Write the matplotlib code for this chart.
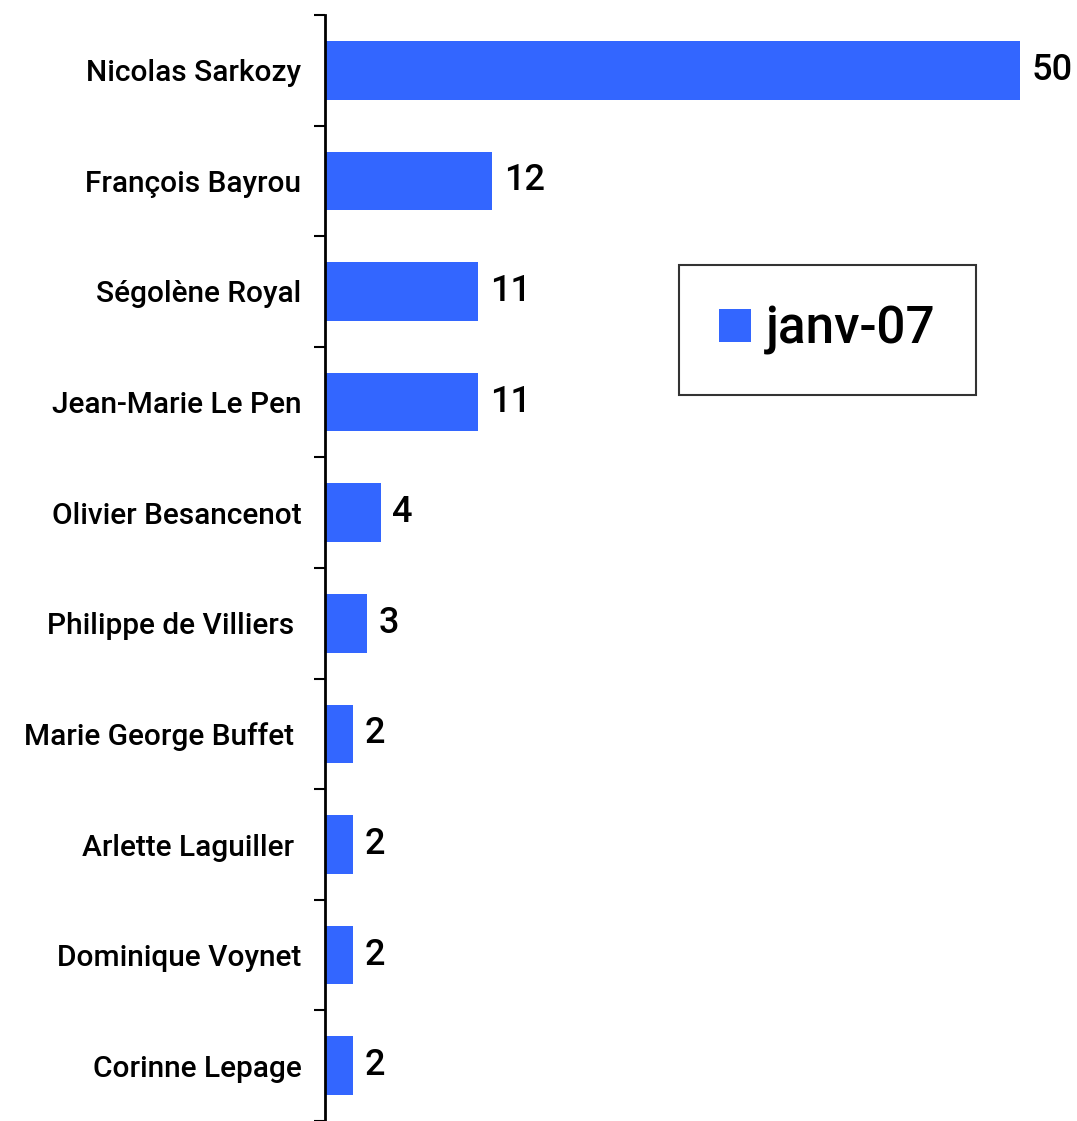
import matplotlib
matplotlib.use("Agg")
import matplotlib.pyplot as plt
from matplotlib.patches import Patch

# Data
candidats = ["Nicolas Sarkozy", "François Bayrou", "Ségolène Royal",
             "Jean-Marie Le Pen", "Olivier Besancenot", "Philippe de Villiers ",
             "Marie George Buffet ", "Arlette Laguiller ", "Dominique Voynet",
             "Corinne Lepage"]
valeurs = [50, 12, 11, 11, 4, 3, 2, 2, 2, 2]
serie = "janv-07"

plt.rcParams['font.family'] = ['Roboto', 'DejaVu Sans']
bleu = "#3366FF"

fig = plt.figure(figsize=(10.77, 11.21), dpi=100)
ax = fig.add_axes([325 / 1077, 0.0, 1 - 325 / 1077, 1 - 15 / 1121])

pos = list(range(len(candidats)))
ax.barh(pos, valeurs, height=0.53, color=bleu)
ax.set_ylim(len(candidats) - 0.5, -0.5)
ax.set_xlim(0, 54.1)

# value labels
for p, v in zip(pos, valeurs):
    ax.text(v + 0.85, p, str(v), va='center', ha='left', fontsize=26,
            fontweight='medium', color='black')

# category labels at centres, ticks at boundaries
ax.set_yticks(pos)
ax.set_yticklabels(candidats, fontsize=21.5, fontweight='medium')
ax.tick_params(axis='y', which='major', length=0, pad=17)
ax.set_yticks([p - 0.5 for p in pos] + [len(pos) - 0.5], minor=True)
ax.tick_params(axis='y', which='minor', length=8, width=1.5, direction='out')

ax.set_xticks([])
for s in ['top', 'right', 'bottom']:
    ax.spines[s].set_visible(False)
ax.spines['left'].set_linewidth(2)

leg = fig.legend(handles=[Patch(facecolor=bleu, label=serie)],
                 loc='center', bbox_to_anchor=(827.5 / 1077, 1 - 330 / 1121),
                 prop={'size': 37, 'weight': 'medium'}, frameon=True,
                 fancybox=False, edgecolor='black',
                 handlelength=0.62, handleheight=0.62, handletextpad=0.3,
                 borderpad=0.78, borderaxespad=0)
leg.get_frame().set_linewidth(1.5)

fig.savefig("out.png", dpi=100)
